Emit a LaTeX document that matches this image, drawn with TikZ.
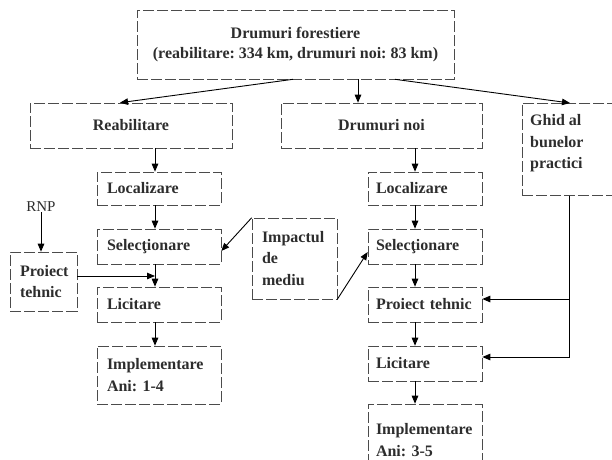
\documentclass[tikz,border=0pt]{standalone}
\usepackage{fontspec}
\setmainfont{Liberation Serif}
\usetikzlibrary{arrows.meta,calc}
\definecolor{ink}{RGB}{45,45,45}
\definecolor{frame}{RGB}{75,75,75}
\frenchspacing
\begin{document}
\begin{tikzpicture}[x=1pt,y=-1pt,
  box/.style={draw=frame, line width=0.6pt, dash pattern=on 11pt off 3pt,
    inner xsep=10pt, inner ysep=0pt, text=ink,
    font=\fontsize{16}{21.5}\selectfont\bfseries},
  lbox/.style={box, align=left},
  txt/.style={inner sep=0pt, text=ink, font=\fontsize{16}{21.5}\selectfont\bfseries},
  flow/.style={draw=black, line width=0.9pt, -{Triangle[length=8pt,width=6.5pt]}}
]
\useasboundingbox (0,0) rectangle (612,459);
\clip (0,0) rectangle (612,459);

% x positions of the vertical connectors
\coordinate (ax) at (155,0);
\coordinate (bx) at (415,0);
\coordinate (gx) at (569,0);
\coordinate (ta) at (293,0);
\coordinate (tb) at (358,0);
\coordinate (tc) at (395,0);
\coordinate (ea) at (120,0);
\coordinate (ec) at (570,0);

% top level
\node[box, align=center, minimum width=317pt, minimum height=69pt,
  font=\fontsize{16}{20}\selectfont\bfseries] (top) at (295.5,44.5)
  {Drumuri forestiere\\(reabilitare: 334 km, drumuri noi: 83 km)};

% second level
\node[box, minimum width=202pt, minimum height=45pt] (reab) at (131,125.5) {Reabilitare};
\node[box, minimum width=201pt, minimum height=45pt] (dnoi) at (381.5,125.5) {Drumuri noi};
\node[box, minimum width=100pt, minimum height=92pt, anchor=north west] (ghid) at (522,103) {};
\node[txt, anchor=west, align=left] (ghidtxt) at (530,143.5) {Ghid al\\bunelor\\practici};

% rehabilitation column
\node[lbox, minimum width=124pt, text width=104pt, minimum height=33pt] (loc1) at (159,188.5) {Localizare};
\node[lbox, minimum width=124pt, text width=104pt, minimum height=35pt] (sel1) at (159,246.5) {Selecţionare};
\node[lbox, minimum width=124pt, text width=104pt, minimum height=35pt] (lic1) at (159,304.5) {Licitare};
\node[lbox, minimum width=124pt, text width=104pt, minimum height=58pt] (imp1) at (159,375) {Implementare\\Ani: 1-4};

% new roads column
\tikzset{rbox/.style={lbox, inner xsep=8pt, minimum width=114pt, text width=98pt}}
\node[rbox, minimum height=33pt] (loc2) at (425,188.5) {Localizare};
\node[rbox, minimum height=35pt] (sel2) at (425,246.5) {Selecţionare};
\node[rbox, minimum height=35pt] (pt2) at (425,304.5) {Proiect tehnic};
\node[rbox, minimum height=35pt] (lic2) at (425,363.5) {Licitare};
\node[rbox, minimum height=72pt] (imp2) at (425,440) {Implementare\\Ani: 3-5};

% side inputs
\node[text=ink, inner sep=0pt, font=\fontsize{15}{18}\selectfont] (rnp) at (41,207) {RNP};
\node[lbox, inner xsep=10pt, minimum width=67pt, text width=47pt, minimum height=59pt] (proj) at (43.5,281.5) {Proiect\\tehnic};
\node[lbox, minimum width=85pt, text width=65pt, minimum height=81pt] (impact) at (294.5,258.5) {Impactul\\de\\mediu};

% connectors from the top box
\draw[flow] (top.south -| ta) -- (reab.north -| ea);
\draw[flow] (top.south -| tb) -- (dnoi.north -| tb);
\draw[flow] (top.south -| tc) -- (ghid.north -| ec);

% rehabilitation chain
\draw[flow] (reab.south -| ax) -- (loc1.north -| ax);
\draw[flow] (loc1.south -| ax) -- (sel1.north -| ax);
\draw[flow] (sel1.south -| ax) -- (lic1.north -| ax);
\draw[flow] (lic1.south -| ax) -- (imp1.north -| ax);

% new roads chain
\draw[flow] (dnoi.south -| bx) -- (loc2.north -| bx);
\draw[flow] (loc2.south -| bx) -- (sel2.north -| bx);
\draw[flow] (sel2.south -| bx) -- (pt2.north -| bx);
\draw[flow] (pt2.south -| bx) -- (lic2.north -| bx);
\draw[flow] (lic2.south -| bx) -- (imp2.north -| bx);

% side inputs
\draw[flow] (rnp.south) -- (rnp.south |- proj.north);
\coordinate (pj) at ($(proj.east)+(0,-5.5)$);
\draw[flow] (pj) -- (pj -| ax);
\draw[flow] (impact.north west) -- ($(sel1.east)+(0,4.5)$);
\draw[flow] (impact.south east) -- ($(sel2.west)+(0,5.5)$);

% good-practice guide feeding design and tendering
\draw[flow] (ghid.south -| gx) |- ($(pt2.east)+(0,-5.5)$);
\draw[flow] (ghid.south -| gx) |- ($(lic2.east)+(0,-6.5)$);
\end{tikzpicture}
\end{document}
